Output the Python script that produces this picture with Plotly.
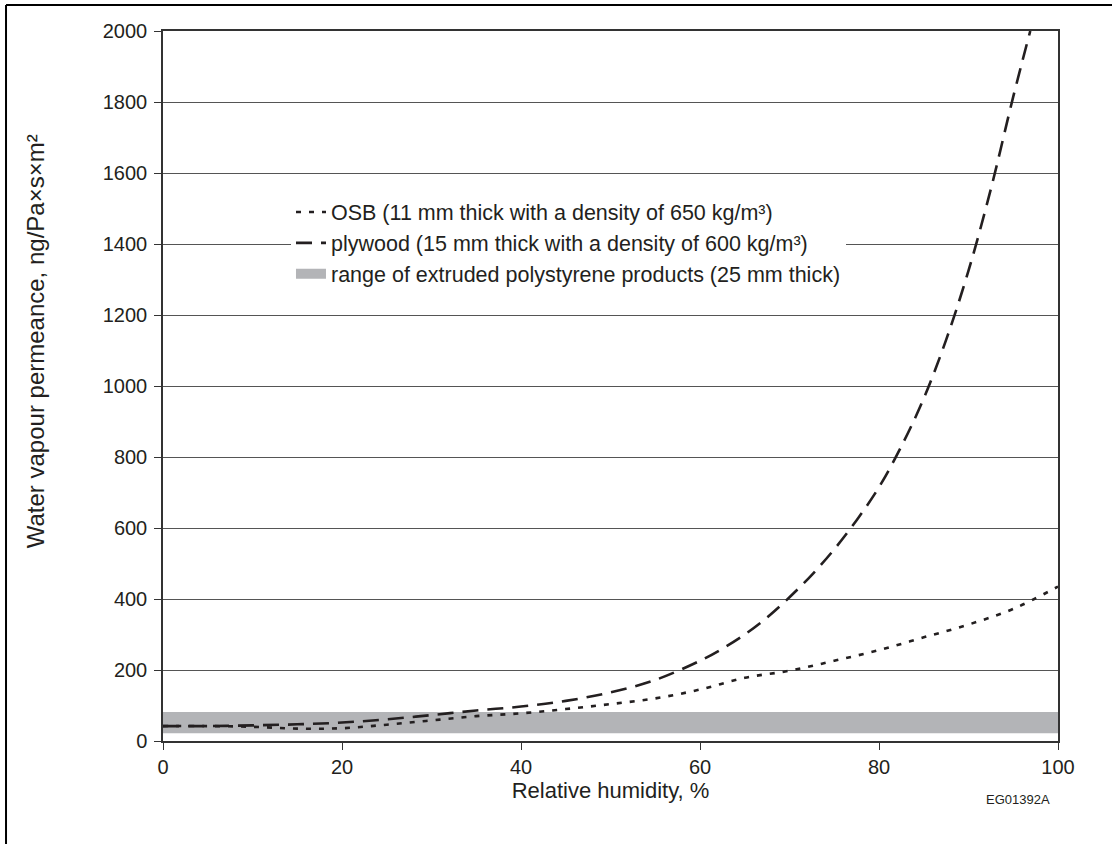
import plotly.graph_objects as go

# Relative humidity (%) and permeance values (ng/Pa·s·m²)
ply_rh = [0, 5, 10, 15, 20, 25, 30, 35, 40, 45, 50, 55, 60, 62.5, 65, 67.5, 70, 72.5, 75,
          77.5, 80, 82.5, 85, 87.5, 90, 92.5, 95, 96.9]
ply_val = [42, 42, 44, 47, 52, 61, 73, 86, 97, 113, 137, 172, 226, 260, 300, 348, 405, 468, 540,
           622, 715, 830, 965, 1130, 1325, 1555, 1815, 2000]

osb_rh = [0, 5, 10, 15, 20, 25, 30, 35, 40, 45, 50, 55, 60, 65, 70, 75, 80, 85, 90, 95, 100]
osb_val = [42, 42, 40, 35, 36, 46, 58, 70, 78, 90, 104, 120, 145, 178, 198, 226, 256, 292, 328, 372, 435]

xps_rh = [0, 100]
xps_low = 22
xps_high = 82

x_ticks = [0, 20, 40, 60, 80, 100]
y_ticks = list(range(0, 2001, 200))

FONT = "Liberation Sans, Arial, sans-serif"
INK = "#231f20"
BAND = "#b3b4b7"

fig = go.Figure()

# extruded polystyrene band
fig.add_trace(go.Scatter(
    x=[xps_rh[0], xps_rh[1], xps_rh[1], xps_rh[0], xps_rh[0]],
    y=[xps_low, xps_low, xps_high, xps_high, xps_low],
    fill="toself", fillcolor=BAND, mode="lines",
    line=dict(width=0, color=BAND), showlegend=False, hoverinfo="skip",
    legendgroup="c",
))

fig.add_trace(go.Scatter(
    x=osb_rh, y=osb_val, mode="lines", line_shape="spline",
    line=dict(color=INK, width=2.6, dash="5px,8px"),
    name="OSB (11 mm thick with a density of 650 kg/m³)",
    legendrank=1, legendgroup="a",
))

fig.add_trace(go.Scatter(
    x=ply_rh, y=ply_val, mode="lines", line_shape="spline",
    line=dict(color=INK, width=2.6, dash="16px,9px"),
    name="plywood (15 mm thick with a density of 600 kg/m³)",
    legendrank=2, legendgroup="b",
))

# legend swatch for the band
fig.add_trace(go.Scatter(
    x=[None], y=[None], mode="lines",
    line=dict(color=BAND, width=13),
    name="range of extruded polystyrene products (25 mm thick)",
    legendrank=3, legendgroup="c",
))

# outer frame of the figure (top and left border)
fig.add_shape(type="line", xref="paper", yref="paper",
              x0=-0.1754, x1=1.07, y0=1.0366, y1=1.0366,
              line=dict(color="#000", width=2))
fig.add_shape(type="line", xref="paper", yref="paper",
              x0=-0.1754, x1=-0.1754, y0=1.0366, y1=-0.16,
              line=dict(color="#000", width=2))

fig.add_annotation(text="EG01392A", xref="paper", yref="paper",
                   x=0.955, y=-0.083, showarrow=False,
                   xanchor="center", yanchor="middle",
                   font=dict(family=FONT, size=13, color=INK))

fig.add_annotation(text="Water vapour permeance, ng/Pa×s×m²", xref="paper", yref="paper",
                   x=-0.143, y=0.563, showarrow=False, textangle=-90,
                   xanchor="center", yanchor="middle",
                   font=dict(family=FONT, size=24, color=INK))

fig.update_layout(
    width=1112, height=844,
    margin=dict(l=163, r=54, t=31, b=103),
    paper_bgcolor="white", plot_bgcolor="white",
    font=dict(family=FONT, size=20, color=INK),
    showlegend=True,
    legend=dict(
        x=0.143, y=0.774, xanchor="left", yanchor="top",
        bgcolor="white", borderwidth=0, traceorder="grouped",
        font=dict(family=FONT, size=21.5, color=INK),
        tracegroupgap=0, itemwidth=30,
    ),
)

fig.update_xaxes(
    range=[0, 100], tickvals=x_ticks, ticks="outside", ticklen=7,
    tickcolor="#333", showline=True, linecolor="#333", linewidth=1.5,
    mirror=True, showgrid=False, zeroline=False,
    tickfont=dict(family=FONT, size=20, color=INK),
    title=dict(text="Relative humidity, %", font=dict(family=FONT, size=22, color=INK), standoff=0),
)
fig.update_yaxes(
    range=[0, 2000], tickvals=y_ticks, ticks="outside", ticklen=7,
    tickcolor="#333", showline=True, linecolor="#333", linewidth=1.5,
    mirror=True, showgrid=True, gridcolor="#555", gridwidth=1, zeroline=False,
    tickfont=dict(family=FONT, size=20, color=INK), ticklabelstandoff=3,
)

fig.write_html("out.html", config={"displayModeBar": False},
               post_script="document.body.style.margin='0';")
